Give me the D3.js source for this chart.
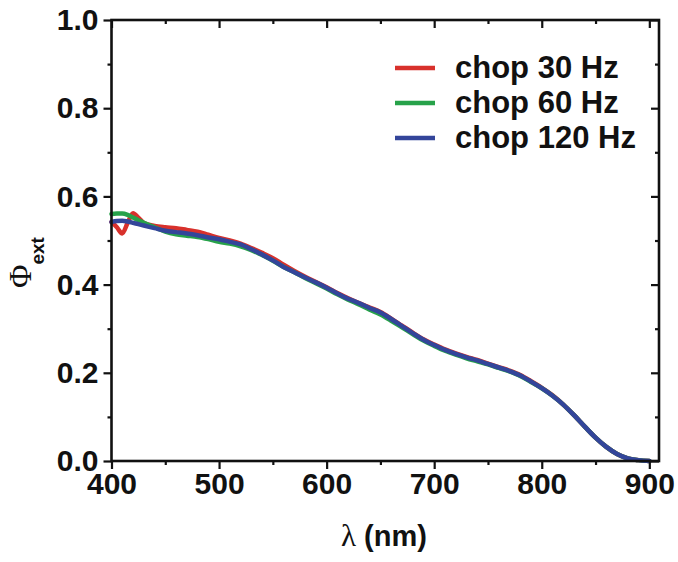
<!DOCTYPE html>
<html>
<head>
<meta charset="utf-8">
<script src="https://cdn.jsdelivr.net/npm/d3@7"></script>
<style>
  html, body { margin: 0; padding: 0; background: #fff; }
  svg { display: block; }
  .tick text { font-family: "Liberation Sans", Arial, sans-serif; font-weight: bold; }
</style>
</head>
<body>
<svg id="chart" width="678" height="562"></svg>
<script>
// Wavelength grid (nm) and external quantum efficiency for each chopper frequency
const wavelength = [400, 405, 410, 415, 420, 425, 430, 440, 450, 460, 470, 480, 490, 500,
  510, 520, 530, 540, 550, 560, 570, 580, 590, 600, 610, 620, 630, 640, 650,
  660, 670, 680, 690, 700, 710, 720, 730, 740, 750, 760, 770, 780, 790, 800,
  810, 820, 830, 840, 850, 860, 870, 880, 890, 900];

const chop30 = [0.542, 0.530, 0.516, 0.540, 0.562, 0.552, 0.540, 0.533, 0.530, 0.528, 0.524, 0.520, 0.513, 0.506,
  0.500, 0.493, 0.483, 0.472, 0.460, 0.445, 0.431, 0.418, 0.406, 0.394, 0.381, 0.369, 0.358, 0.348, 0.338,
  0.323, 0.307, 0.291, 0.276, 0.264, 0.253, 0.244, 0.236, 0.229, 0.221, 0.213, 0.205, 0.195, 0.181, 0.166,
  0.149, 0.128, 0.104, 0.078, 0.053, 0.032, 0.016, 0.006, 0.002, 0.000];

const chop60 = [0.560, 0.561, 0.561, 0.558, 0.552, 0.546, 0.540, 0.530, 0.520, 0.514, 0.511, 0.508, 0.503, 0.497,
  0.493, 0.487, 0.478, 0.467, 0.454, 0.440, 0.428, 0.415, 0.403, 0.391, 0.378, 0.366, 0.355, 0.343, 0.332,
  0.318, 0.303, 0.288, 0.273, 0.261, 0.250, 0.241, 0.233, 0.226, 0.219, 0.211, 0.203, 0.193, 0.179, 0.165,
  0.148, 0.128, 0.104, 0.078, 0.053, 0.032, 0.016, 0.006, 0.002, 0.000];

const chop120 = [0.542, 0.544, 0.545, 0.543, 0.540, 0.537, 0.534, 0.528, 0.522, 0.519, 0.516, 0.512, 0.507, 0.503,
  0.497, 0.491, 0.480, 0.468, 0.455, 0.440, 0.428, 0.416, 0.405, 0.393, 0.380, 0.368, 0.358, 0.347, 0.337,
  0.322, 0.306, 0.290, 0.275, 0.263, 0.252, 0.243, 0.235, 0.228, 0.220, 0.212, 0.204, 0.194, 0.180, 0.165,
  0.148, 0.128, 0.104, 0.078, 0.053, 0.032, 0.016, 0.006, 0.002, 0.000];

const seriesNames = ["chop 30 Hz", "chop 60 Hz", "chop 120 Hz"];
const seriesColors = ["#d8312c", "#27a24a", "#33459a"];

const xMajorTicks = [400, 500, 600, 700, 800, 900];
const xMinorTicks = [450, 550, 650, 750, 850];
const yMajorTicks = [0.0, 0.2, 0.4, 0.6, 0.8, 1.0];
const yMinorTicks = [0.1, 0.3, 0.5, 0.7, 0.9];

const svg = d3.select("#chart");
const plot = { left: 111.5, right: 659, top: 20, bottom: 461 };

const x = d3.scaleLinear().domain([400, 909]).range([plot.left, plot.right]);
const y = d3.scaleLinear().domain([0, 1]).range([plot.bottom, plot.top]);

const fontSans = "'Liberation Sans', Arial, sans-serif";
const fontSerif = "'Liberation Serif', 'Times New Roman', serif";

// Data curves (drawn first so the frame sits on top)
const line = d3.line()
  .x((d, i) => x(wavelength[i]))
  .y(d => y(d))
  .curve(d3.curveMonotoneX);

[chop30, chop60, chop120].forEach((vals, k) => {
  svg.append("path")
    .attr("d", line(vals))
    .attr("fill", "none")
    .attr("stroke", seriesColors[k])
    .attr("stroke-width", 4.5)
    .attr("stroke-linejoin", "round")
    .attr("stroke-linecap", "round");
});

// Axes
function styleAxis(g) {
  g.selectAll(".domain").remove();
  g.selectAll(".tick line").attr("stroke", "#111").attr("stroke-width", 2.2);
}

const axisW = 2.6;

const gBottom = svg.append("g").attr("transform", `translate(0,${plot.bottom})`)
  .call(d3.axisBottom(x).tickValues(xMajorTicks).tickSize(8).tickPadding(4).tickFormat(d3.format("d")))
  .call(styleAxis);
gBottom.selectAll(".tick text").attr("font-size", 30).attr("fill", "#111");

svg.append("g").attr("transform", `translate(0,${plot.bottom})`)
  .call(d3.axisBottom(x).tickValues(xMinorTicks).tickSize(4).tickFormat(""))
  .call(styleAxis);

const gLeft = svg.append("g").attr("transform", `translate(${plot.left},0)`)
  .call(d3.axisLeft(y).tickValues(yMajorTicks).tickSize(8).tickPadding(5).tickFormat(d3.format(".1f")))
  .call(styleAxis);
gLeft.selectAll(".tick text").attr("font-size", 30).attr("fill", "#111");

svg.append("g").attr("transform", `translate(${plot.left},0)`)
  .call(d3.axisLeft(y).tickValues(yMinorTicks).tickSize(4).tickFormat(""))
  .call(styleAxis);

// Mirrored inward ticks on the top and right edges
svg.append("g").attr("transform", `translate(0,${plot.top})`)
  .call(d3.axisTop(x).tickValues(xMajorTicks).tickSize(-8).tickFormat(""))
  .call(styleAxis);
svg.append("g").attr("transform", `translate(0,${plot.top})`)
  .call(d3.axisTop(x).tickValues(xMinorTicks).tickSize(-4).tickFormat(""))
  .call(styleAxis);
svg.append("g").attr("transform", `translate(${plot.right},0)`)
  .call(d3.axisRight(y).tickValues(yMajorTicks).tickSize(-8).tickFormat(""))
  .call(styleAxis);
svg.append("g").attr("transform", `translate(${plot.right},0)`)
  .call(d3.axisRight(y).tickValues(yMinorTicks).tickSize(-4).tickFormat(""))
  .call(styleAxis);

// Frame
svg.append("rect")
  .attr("x", plot.left).attr("y", plot.top)
  .attr("width", plot.right - plot.left).attr("height", plot.bottom - plot.top)
  .attr("fill", "none").attr("stroke", "#111").attr("stroke-width", axisW);

// Axis titles
const xt = svg.append("text")
  .attr("x", 341).attr("y", 546)
  .attr("fill", "#111");
xt.append("tspan").attr("font-family", fontSerif).attr("font-size", 31).text("λ");
xt.append("tspan").attr("font-family", fontSans).attr("font-weight", "bold").attr("font-size", 29).text(" (nm)");

const yt = svg.append("text")
  .attr("transform", "translate(31,288) rotate(-90)")
  .attr("fill", "#111");
yt.append("tspan").attr("font-family", fontSerif).attr("font-size", 32).text("Φ");
yt.append("tspan").attr("font-family", fontSans).attr("font-weight", "bold").attr("font-size", 19)
  .attr("dy", 13).text("ext");

// Legend
const legend = svg.append("g");
seriesNames.forEach((name, k) => {
  const ly = 68 + k * 35;
  legend.append("line")
    .attr("x1", 395).attr("x2", 435).attr("y1", ly).attr("y2", ly)
    .attr("stroke", seriesColors[k]).attr("stroke-width", 4.5);
  legend.append("text")
    .attr("x", 455).attr("y", ly + 10)
    .attr("font-family", fontSans).attr("font-weight", "bold").attr("font-size", 31)
    .attr("fill", "#111")
    .text(name);
});
</script>
</body>
</html>
